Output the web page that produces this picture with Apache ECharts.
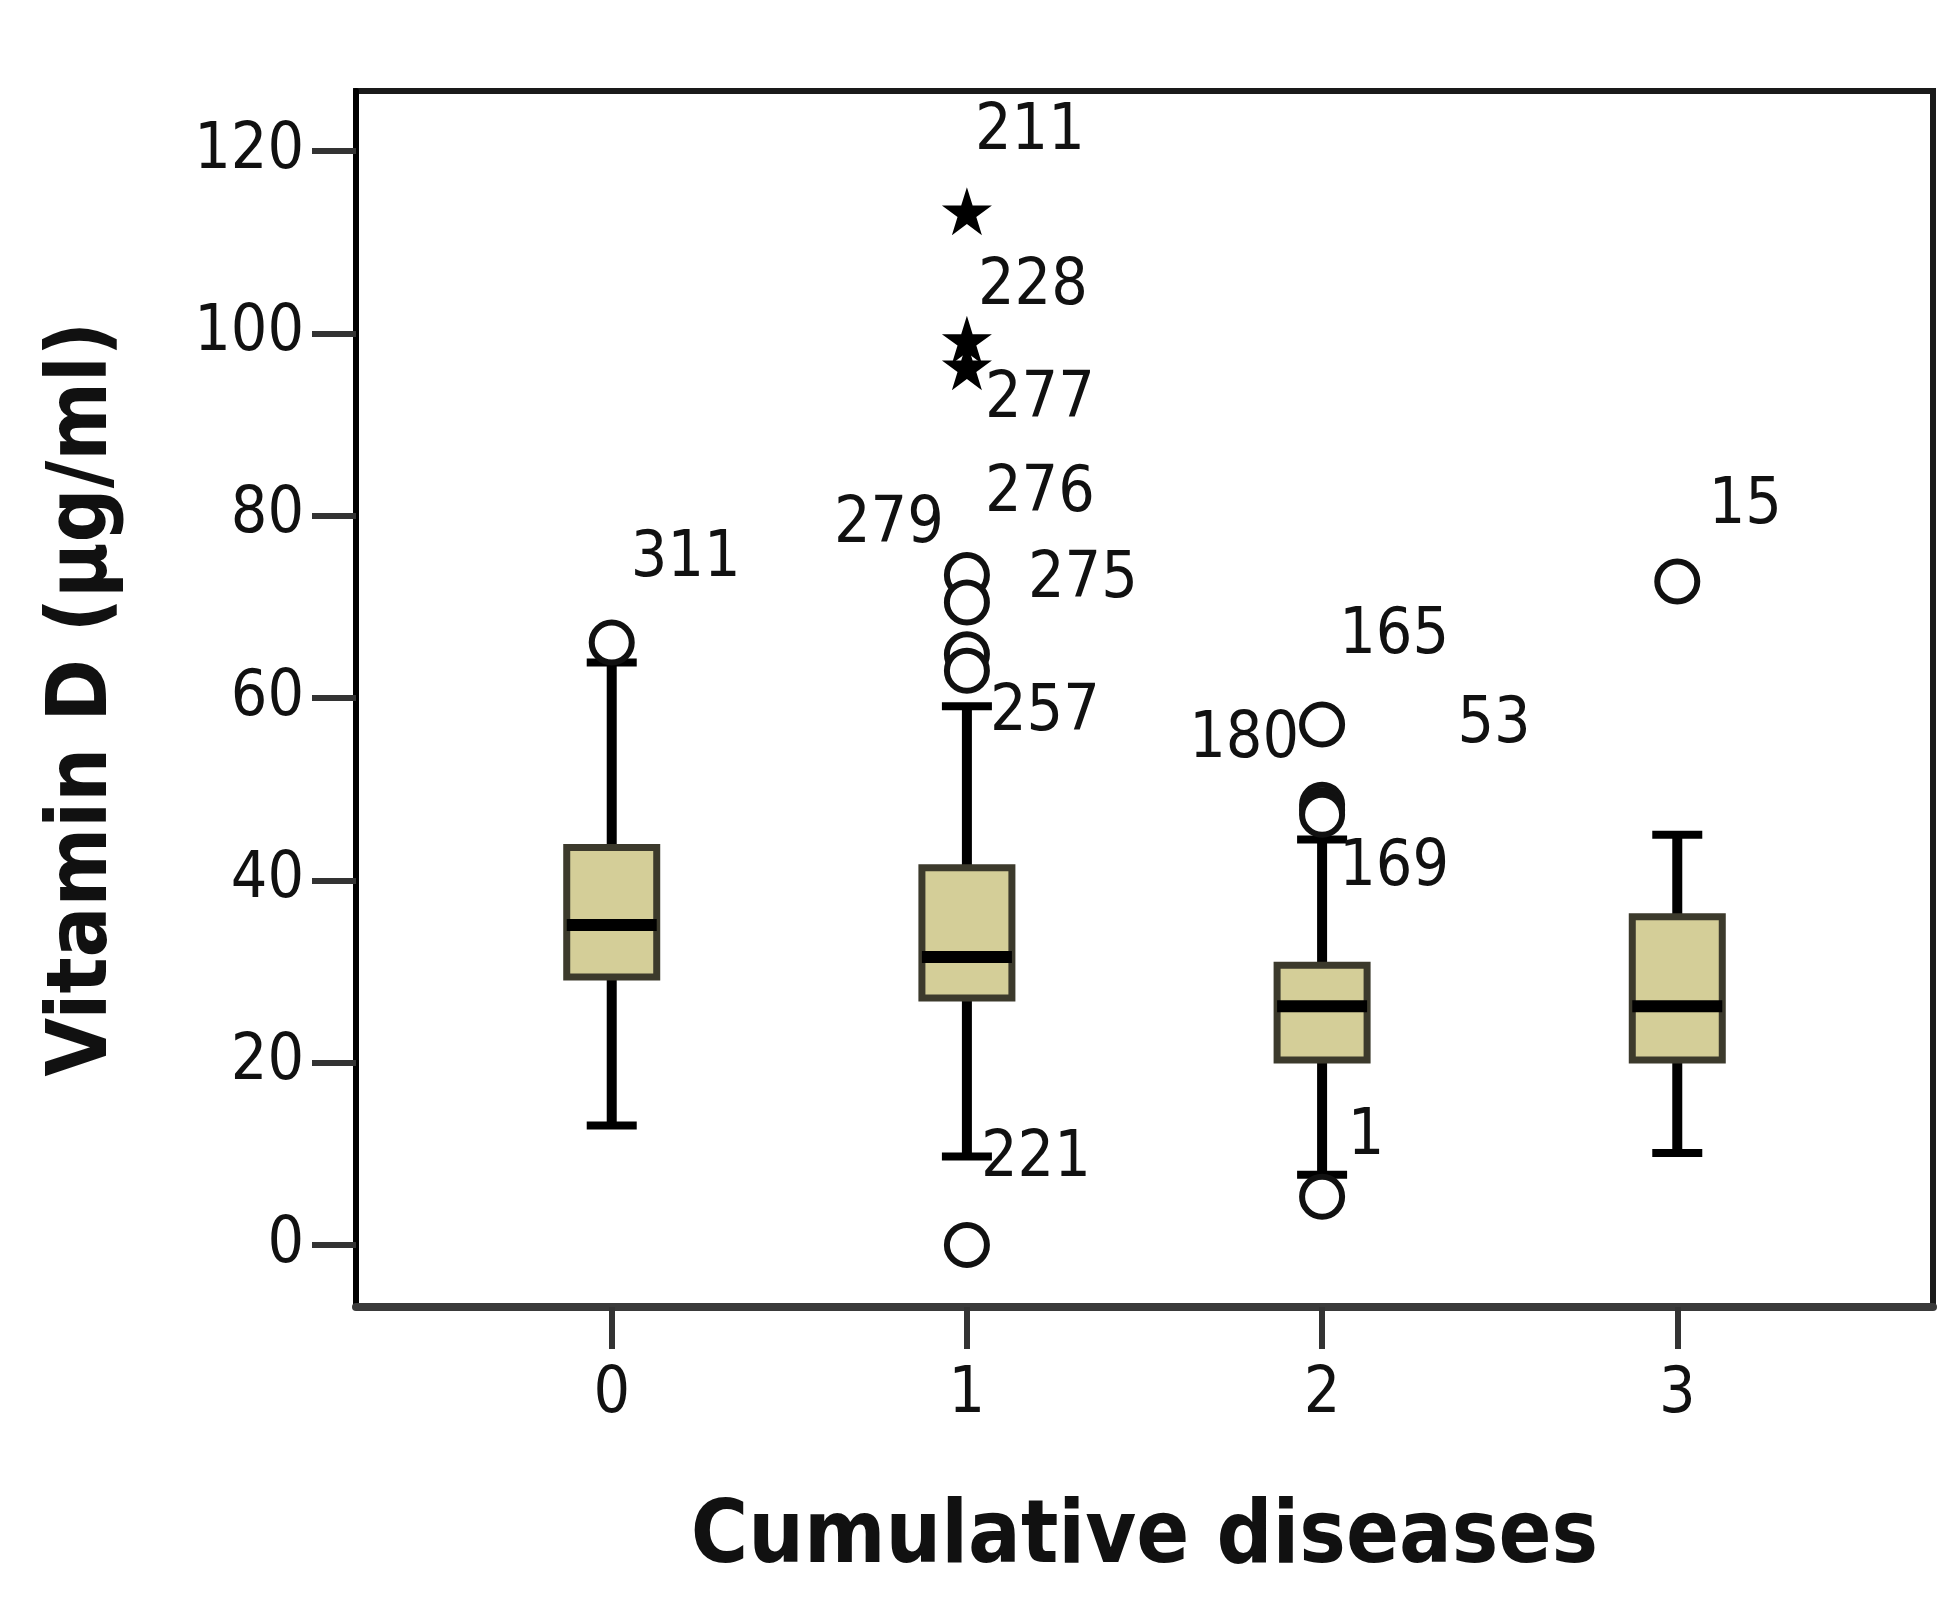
<!DOCTYPE html>
<html><head><meta charset="utf-8">
<script src="https://cdn.jsdelivr.net/npm/echarts@6/dist/echarts.min.js"></script>
<style>html,body{margin:0;padding:0;background:#fff}#c{width:1960px;height:1606px}</style>
</head><body><div id="c"></div>
<script>
// ---- data ----
const categories = ['0', '1', '2', '3'];
const whiskerLow  = [13.1,  9.7,  7.7, 10.1];
const q1          = [29.4, 27.1, 20.3, 20.3];
const median      = [35.1, 31.6, 26.2, 26.2];
const q3          = [43.6, 41.4, 30.7, 36.0];
const whiskerHigh = [63.9, 59.1, 44.5, 45.0];

const circleCat  = [0, 1, 1, 1, 1, 1, 2, 2, 2, 2, 2, 3];
const circleVal  = [66.1, 73.5, 70.5, 64.8, 63.0, 0.0, 57.1, 48.3, 47.7, 47.2, 5.3, 72.8];
const circleCase = ['311', '276', '279', '275', '257', '221', '180', '165', '53', '169', '1', '15'];

const starCat  = [1, 1, 1];
const starVal  = [113.4, 99.3, 96.4];
const starCase = ['211', '228', '277'];

const yTicks = [0, 20, 40, 60, 80, 100, 120];
const xTicks = [0, 1, 2, 3];

// ---- layout (label placement in pixels, not data) ----
const circleLabelOffset = [[74,-83],[73,-81],[-78,-77],[116,-74],[78,43],[69,-86],[-78,16],[72,-168],[172,-85],[72,54],[44,-59],[68,-75]];
const starLabelOffset = [[63,-79],[66,-52],[73,34]];

const FONT = "'DejaVu Sans Condensed', 'DejaVu Sans', sans-serif";
const STAR = 'path://M50,0 L61.2,36.2 L99,36.2 L68.4,58.6 L79.4,95 L50,72.6 L20.6,95 L31.6,58.6 L1,36.2 L38.8,36.2 Z';

const boxData = categories.map((c, i) => [i, whiskerLow[i], q1[i], median[i], q3[i], whiskerHigh[i]]);

const chart = echarts.init(document.getElementById('c'), null, {renderer: 'canvas'});
chart.setOption({
  animation: false,
  backgroundColor: '#fff',
  grid: {left: 356, right: 27, top: 91, bottom: 299, show: true, borderColor: '#1a1a1a', borderWidth: 6, backgroundColor: 'transparent'},
  xAxis: {
    type: 'value', min: -0.72, max: 3.72,
    splitLine: {show: false},
    axisLine: {show: true, onZero: false, lineStyle: {color: '#3a3a3a', width: 8}},
    axisTick: {show: true, customValues: xTicks, length: 42, lineStyle: {color: '#333', width: 6}},
    axisLabel: {customValues: xTicks, margin: 56, fontSize: 64, color: '#111', fontFamily: FONT, formatter: v => categories[v]},
    name: 'Cumulative diseases', nameLocation: 'middle', nameGap: 189,
    nameTextStyle: {fontSize: 87, fontWeight: 'bold', color: '#111', fontFamily: FONT}
  },
  yAxis: {
    type: 'value', min: -6.8, max: 126.6,
    splitLine: {show: false},
    axisLine: {show: true, onZero: false, lineStyle: {color: '#000', width: 6}},
    axisTick: {show: true, customValues: yTicks, length: 44, lineStyle: {color: '#333', width: 6}},
    axisLabel: {customValues: yTicks, margin: 52, fontSize: 64, color: '#111', fontFamily: FONT},
    name: 'Vitamin D (µg/ml)', nameLocation: 'middle', nameGap: 230,
    nameTextStyle: {fontSize: 84, fontWeight: 'bold', color: '#111', fontFamily: FONT}
  },
  series: [
    {
      type: 'custom',
      data: boxData,
      encode: {x: 0, y: [1, 2, 3, 4, 5]},
      z: 2,
      renderItem: function (params, api) {
        const x = api.value(0);
        const lo = api.coord([x, api.value(1)]);
        const b1 = api.coord([x, api.value(2)]);
        const md = api.coord([x, api.value(3)]);
        const b3 = api.coord([x, api.value(4)]);
        const hi = api.coord([x, api.value(5)]);
        const cx = lo[0];
        const bw = 90, cw = 50;
        return {type: 'group', children: [
          {type: 'line', shape: {x1: cx, y1: hi[1], x2: cx, y2: lo[1]}, style: {stroke: '#000', lineWidth: 10}},
          {type: 'line', shape: {x1: cx - cw / 2, y1: hi[1], x2: cx + cw / 2, y2: hi[1]}, style: {stroke: '#000', lineWidth: 8}},
          {type: 'line', shape: {x1: cx - cw / 2, y1: lo[1], x2: cx + cw / 2, y2: lo[1]}, style: {stroke: '#000', lineWidth: 8}},
          {type: 'rect', shape: {x: cx - bw / 2, y: b3[1], width: bw, height: b1[1] - b3[1]}, style: {fill: '#d4ce98', stroke: '#3c3a2c', lineWidth: 7}},
          {type: 'line', shape: {x1: cx - bw / 2, y1: md[1], x2: cx + bw / 2, y2: md[1]}, style: {stroke: '#000', lineWidth: 12}}
        ]};
      }
    },
    {
      type: 'scatter',
      z: 3,
      symbol: 'circle',
      symbolSize: 40,
      itemStyle: {color: '#fff', borderColor: '#111', borderWidth: 6, opacity: 1},
      label: {show: true, position: 'inside', formatter: '{b}', fontSize: 64, color: '#111', fontFamily: FONT},
      data: circleVal.map((v, i) => ({name: circleCase[i], value: [circleCat[i], v], label: {offset: circleLabelOffset[i]}}))
    },
    {
      type: 'scatter',
      z: 3,
      symbol: STAR,
      symbolSize: [50, 48],
      itemStyle: {color: '#000', opacity: 1},
      label: {show: true, position: 'inside', formatter: '{b}', fontSize: 64, color: '#111', fontFamily: FONT},
      data: starVal.map((v, i) => ({name: starCase[i], value: [starCat[i], v], label: {offset: starLabelOffset[i]}}))
    }
  ]
});
</script>
</body></html>
